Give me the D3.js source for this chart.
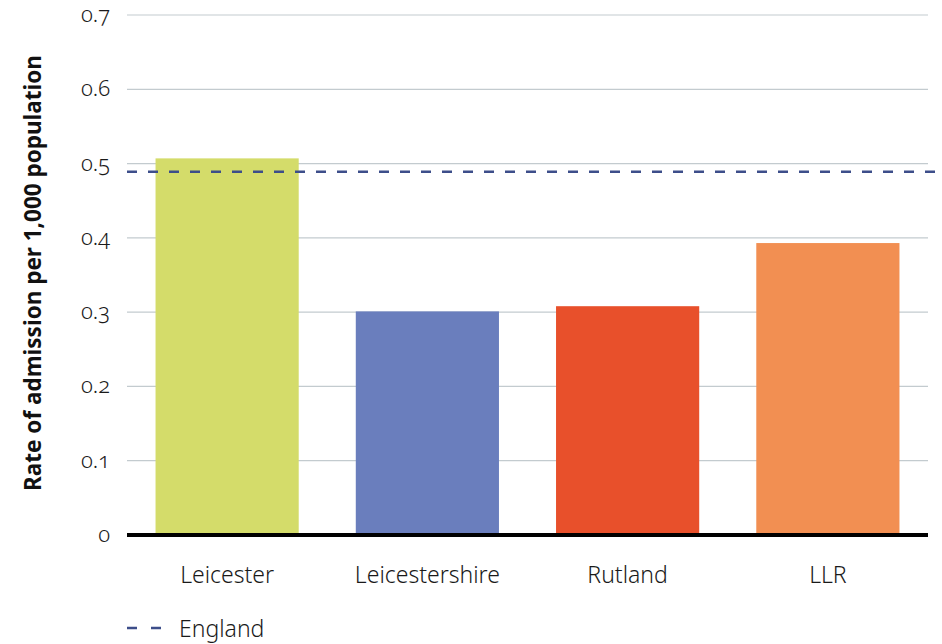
<!DOCTYPE html>
<html>
<head>
<meta charset="utf-8">
<script src="https://cdn.jsdelivr.net/npm/d3@7"></script>
<style>
  html, body { margin: 0; padding: 0; background: #fff; }
  svg { display: block; font-family: "Noto Sans", "Open Sans", sans-serif; }
  .num { font-variant-numeric: oldstyle-nums; font-feature-settings: "onum" 1; }
</style>
</head>
<body>
<svg id="chart" width="942" height="644"></svg>
<script>
// Hospital admission rate per 1,000 population by area
const categories = ["Leicester", "Leicestershire", "Rutland", "LLR"];
const values = [0.507, 0.301, 0.308, 0.393];
const colors = ["#d4dc6a", "#6a7ebd", "#e8502b", "#f28f52"];
const englandRate = 0.489;
const yTicks = [0, 0.1, 0.2, 0.3, 0.4, 0.5, 0.6, 0.7];
const yTickLabels = ["0", "0.1", "0.2", "0.3", "0.4", "0.5", "0.6", "0.7"];
const yTitle = "Rate of admission per 1,000 population";
const legendLabel = "England";

const svg = d3.select("#chart");
const margin = { left: 127, right: 14, top: 15, bottom: 109 };
const W = 942, H = 644;
const x0 = margin.left, x1 = W - margin.right;
const yBase = H - margin.bottom;

const x = d3.scaleBand().domain(categories).range([x0, x1]).paddingInner(0.285).paddingOuter(0.1425);
const y = d3.scaleLinear().domain([0, 0.7]).range([yBase, margin.top]);

// horizontal gridlines
svg.append("g").selectAll("line")
  .data(yTicks.filter(d => d > 0))
  .join("line")
  .attr("x1", x0).attr("x2", x1)
  .attr("y1", d => y(d)).attr("y2", d => y(d))
  .attr("stroke", "#c3cbcf").attr("stroke-width", 1.2);

// y tick labels
svg.append("g").selectAll("text")
  .data(yTicks)
  .join("text")
  .attr("class", "num")
  .attr("x", 110).attr("y", d => y(d))
  .attr("dy", "0.32em")
  .attr("text-anchor", "end")
  .attr("font-size", 22)
  .attr("font-weight", 300)
  .attr("fill", "#1a1a1a")
  .text((d, i) => yTickLabels[i]);

// bars
svg.append("g").selectAll("rect")
  .data(categories)
  .join("rect")
  .attr("x", d => x(d))
  .attr("width", x.bandwidth())
  .attr("y", (d, i) => y(values[i]))
  .attr("height", (d, i) => yBase - y(values[i]))
  .attr("fill", (d, i) => colors[i]);

// baseline
svg.append("line")
  .attr("x1", x0).attr("x2", x1)
  .attr("y1", yBase).attr("y2", yBase)
  .attr("stroke", "#000").attr("stroke-width", 4);

// England reference line
svg.append("line")
  .attr("x1", x0).attr("x2", W)
  .attr("y1", y(englandRate)).attr("y2", y(englandRate))
  .attr("stroke", "#3d4e8a").attr("stroke-width", 2.6)
  .attr("stroke-dasharray", "10,11");

// category labels
svg.append("g").selectAll("text")
  .data(categories)
  .join("text")
  .attr("x", d => x(d) + x.bandwidth() / 2)
  .attr("y", 583)
  .attr("text-anchor", "middle")
  .attr("font-size", 23)
  .attr("font-weight", 300)
  .attr("fill", "#1a1a1a")
  .text(d => d);

// y axis title
svg.append("text")
  .attr("transform", `translate(41, ${(margin.top + yBase) / 2 - 2}) rotate(-90)`)
  .attr("text-anchor", "middle")
  .attr("font-size", 22.5)
  .attr("font-weight", "bold")
  .attr("fill", "#111")
  .text(yTitle);

// legend
const lg = svg.append("g");
lg.append("line")
  .attr("x1", 127).attr("x2", 162)
  .attr("y1", 628).attr("y2", 628)
  .attr("stroke", "#3d4e8a").attr("stroke-width", 2.6)
  .attr("stroke-dasharray", "10,14");
lg.append("text")
  .attr("x", 179).attr("y", 637)
  .attr("font-size", 23)
  .attr("font-weight", 300)
  .attr("fill", "#1a1a1a")
  .text(legendLabel);
</script>
</body>
</html>
